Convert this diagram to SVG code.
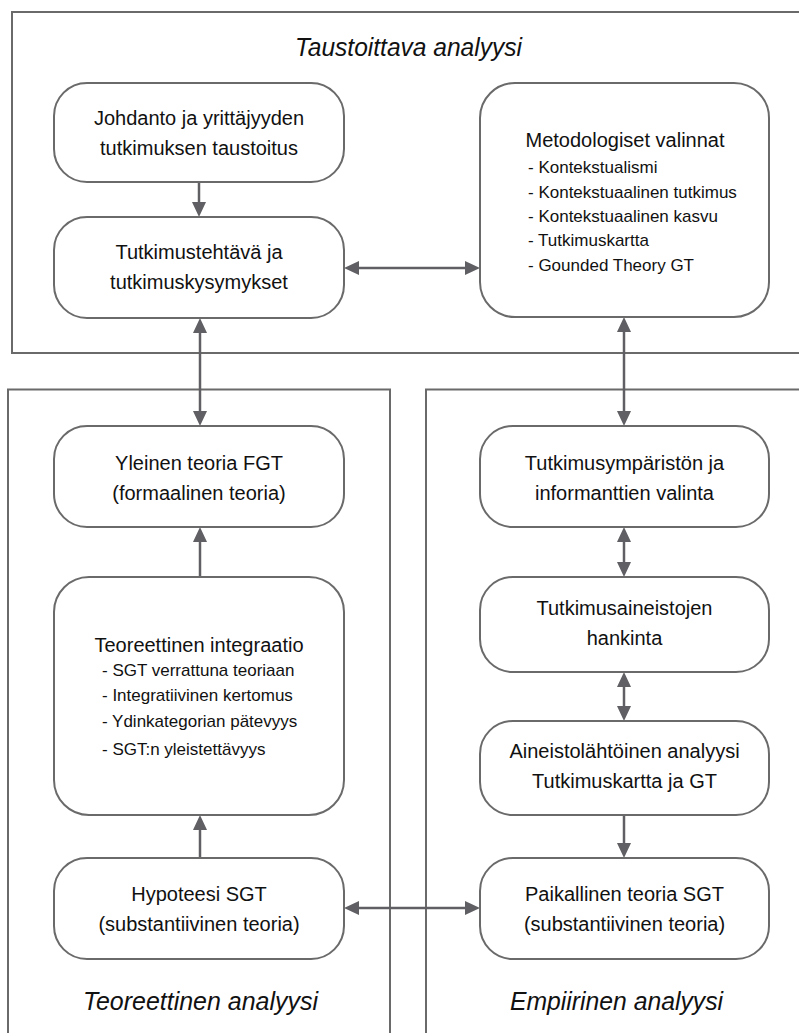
<svg xmlns="http://www.w3.org/2000/svg" width="799" height="1033" viewBox="0 0 799 1033">
  <style>
    .frame{fill:none;stroke:#6a6a6a;stroke-width:2}
    .node{fill:#ffffff;stroke:#6a6a6a;stroke-width:2}
    .t{font-family:"Liberation Sans",Arial,sans-serif;font-size:20px;fill:#111;text-anchor:middle}
    .l{font-family:"Liberation Sans",Arial,sans-serif;font-size:17px;fill:#111;text-anchor:start}
    .h{font-family:"Liberation Sans",Arial,sans-serif;font-size:26px;font-style:italic;fill:#111;text-anchor:middle}
    .c{fill:none;stroke:#606064;stroke-width:2.5}
  </style>
  <defs>
    <marker id="ah" viewBox="0 0 15 14" refX="11" refY="7" markerUnits="userSpaceOnUse" markerWidth="15" markerHeight="14" orient="auto-start-reverse">
      <path d="M0,0 L15,7 L0,14 z" fill="#606064"/>
    </marker>
  </defs>

  <g id="frames">
    <path class="frame" d="M799 12 H12 V353 H799"/>
    <path class="frame" d="M8 1033 V389.5 H390 V1033"/>
    <path class="frame" d="M426 1033 V389.5 H799"/>
    <text class="h" x="408.5" y="56" textLength="227" lengthAdjust="spacingAndGlyphs">Taustoittava analyysi</text>
    <text class="h" x="200.5" y="1010" textLength="235" lengthAdjust="spacingAndGlyphs">Teoreettinen analyysi</text>
    <text class="h" x="616.5" y="1010" textLength="213" lengthAdjust="spacingAndGlyphs">Empiirinen analyysi</text>
  </g>

  <g id="connectors">
    <line class="c" x1="199" y1="182" x2="199" y2="213" marker-end="url(#ah)"/>
    <line class="c" x1="348" y1="268" x2="476" y2="268" marker-start="url(#ah)" marker-end="url(#ah)"/>
    <line class="c" x1="200" y1="322" x2="200" y2="422" marker-start="url(#ah)" marker-end="url(#ah)"/>
    <line class="c" x1="624" y1="321" x2="624" y2="422" marker-start="url(#ah)" marker-end="url(#ah)"/>
    <line class="c" x1="200" y1="577" x2="200" y2="531" marker-end="url(#ah)"/>
    <line class="c" x1="200" y1="858" x2="200" y2="819" marker-end="url(#ah)"/>
    <line class="c" x1="348" y1="908" x2="476" y2="908" marker-start="url(#ah)" marker-end="url(#ah)"/>
    <line class="c" x1="624" y1="531" x2="624" y2="573" marker-start="url(#ah)" marker-end="url(#ah)"/>
    <line class="c" x1="624" y1="676" x2="624" y2="717" marker-start="url(#ah)" marker-end="url(#ah)"/>
    <line class="c" x1="624" y1="815" x2="624" y2="854" marker-end="url(#ah)"/>
  </g>

  <g id="n-johdanto">
    <rect class="node" x="54" y="83" width="290" height="99" rx="33"/>
    <text class="t" x="199" y="125">Johdanto ja yrittäjyyden</text>
    <text class="t" x="199" y="155">tutkimuksen taustoitus</text>
  </g>
  <g id="n-tutkimustehtava">
    <rect class="node" x="54" y="217" width="290" height="101" rx="33"/>
    <text class="t" x="199" y="259">Tutkimustehtävä ja</text>
    <text class="t" x="199" y="289">tutkimuskysymykset</text>
  </g>
  <g id="n-metodologiset">
    <rect class="node" x="480" y="83" width="289" height="234" rx="35"/>
    <text class="t" x="625" y="147">Metodologiset valinnat</text>
    <text class="l" x="528" y="173">- Kontekstualismi</text>
    <text class="l" x="528" y="198">- Kontekstuaalinen tutkimus</text>
    <text class="l" x="528" y="222">- Kontekstuaalinen kasvu</text>
    <text class="l" x="528" y="246">- Tutkimuskartta</text>
    <text class="l" x="528" y="271">- Gounded Theory GT</text>
  </g>
  <g id="n-yleinen">
    <rect class="node" x="54" y="426" width="290" height="101" rx="33"/>
    <text class="t" x="199" y="470">Yleinen teoria FGT</text>
    <text class="t" x="199" y="500">(formaalinen teoria)</text>
  </g>
  <g id="n-integraatio">
    <rect class="node" x="54" y="577" width="290" height="238" rx="35"/>
    <text class="t" x="199" y="652">Teoreettinen integraatio</text>
    <text class="l" x="102" y="676">- SGT verrattuna teoriaan</text>
    <text class="l" x="102" y="701">- Integratiivinen kertomus</text>
    <text class="l" x="102" y="727">- Ydinkategorian pätevyys</text>
    <text class="l" x="102" y="755">- SGT:n yleistettävyys</text>
  </g>
  <g id="n-hypoteesi">
    <rect class="node" x="54" y="858" width="290" height="101" rx="33"/>
    <text class="t" x="199" y="901">Hypoteesi SGT</text>
    <text class="t" x="199" y="931">(substantiivinen teoria)</text>
  </g>
  <g id="n-ymparisto">
    <rect class="node" x="480" y="426" width="289" height="101" rx="33"/>
    <text class="t" x="624.5" y="470">Tutkimusympäristön ja</text>
    <text class="t" x="624.5" y="500">informanttien valinta</text>
  </g>
  <g id="n-hankinta">
    <rect class="node" x="480" y="577" width="289" height="95" rx="33"/>
    <text class="t" x="624.5" y="615">Tutkimusaineistojen</text>
    <text class="t" x="624.5" y="645">hankinta</text>
  </g>
  <g id="n-analyysi">
    <rect class="node" x="480" y="721" width="289" height="94" rx="33"/>
    <text class="t" x="624.5" y="758">Aineistolähtöinen analyysi</text>
    <text class="t" x="624.5" y="788">Tutkimuskartta ja GT</text>
  </g>
  <g id="n-paikallinen">
    <rect class="node" x="480" y="858" width="289" height="101" rx="33"/>
    <text class="t" x="624.5" y="901">Paikallinen teoria SGT</text>
    <text class="t" x="624.5" y="931">(substantiivinen teoria)</text>
  </g>
</svg>
